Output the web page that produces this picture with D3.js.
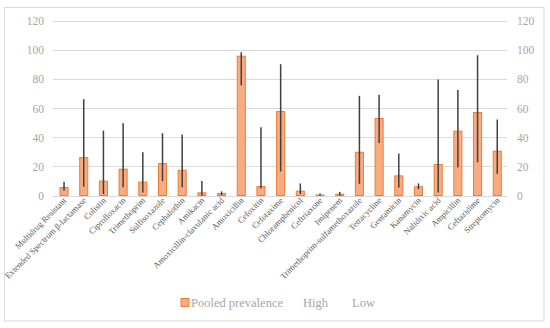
<!DOCTYPE html>
<html>
<head>
<meta charset="utf-8">
<script src="https://cdn.jsdelivr.net/npm/d3@7"></script>
<style>
  body { margin: 0; background: #fff; }
  svg { font-family: "Liberation Serif", "DejaVu Serif", serif; }
</style>
</head>
<body>
<svg id="chart" width="550" height="328"></svg>
<script>
// Data
const categories = [
  "Multidrug Resistant", "Extended Spectrum β-lactamase", "Colistin", "Ciprofloxacin",
  "Trimethoprim", "Sulfisoxazole", "Cephalothin", "Amikacin",
  "Amoxicillin-clavulanic acid", "Amoxicillin", "Cefoxitin", "Cefotaxime",
  "Chloramphenicol", "Ceftriaxone", "Imipenem", "Trimethoprim-sulfamethoxazole",
  "Tetracycline", "Gentamicin", "Kanamycin", "Nalidixic acid",
  "Ampicillin", "Ceftazidime", "Streptomycin"
];
const pooled = [5.5, 26.1, 9.9, 18.1, 9.2, 22, 17.4, 1.8, 1.4, 95.9, 6.2, 57.8,
                3, 0.3, 0.9, 29.8, 53, 13.5, 6, 21.3, 44.3, 57.1, 30.5];
const high = [9.4, 66.3, 44.7, 49.8, 29.8, 42.9, 42, 9.9, 2.8, 98.6, 47, 90.4,
              8.3, 1.4, 2.5, 68.6, 69.3, 28.9, 8.3, 79.8, 72.7, 96.6, 52.3];
const low = [3.2, 6, 1, 5.7, 2, 9.9, 5.7, 0, 0.3, 75.9, 4.8, 16.5,
             1, 0, 0, 8, 36.2, 5.5, 4.4, 2, 19.3, 22.9, 14.9];
const yTicks = [0, 20, 40, 60, 80, 100, 120];
const legendLabels = ["Pooled prevalence", "High", "Low"];

const svg = d3.select("#chart");

// outer frame
svg.append("rect")
  .attr("x", 4.5).attr("y", 7.5)
  .attr("width", 539.5).attr("height", 313.5)
  .attr("fill", "none").attr("stroke", "#d9d9d9");

const x = d3.scaleBand().domain(categories).range([54.2, 507.1]).paddingInner(0.54).paddingOuter(0.27);
const y = d3.scaleLinear().domain([0, 120]).range([195.5, 21.2]);

// gridlines
svg.append("g")
  .selectAll("line")
  .data(yTicks)
  .join("line")
  .attr("x1", 53).attr("x2", 507)
  .attr("y1", d => Math.round(y(d)) + 0.5).attr("y2", d => Math.round(y(d)) + 0.5)
  .attr("stroke", "#d9d9d9").attr("stroke-width", 1);

// left and right axes (labels only)
const leftAxis = svg.append("g")
  .attr("transform", "translate(44,0)")
  .call(d3.axisLeft(y).tickValues(yTicks).tickSize(0).tickPadding(0));
const rightAxis = svg.append("g")
  .attr("transform", "translate(517,0)")
  .call(d3.axisRight(y).tickValues(yTicks).tickSize(0).tickPadding(0));
[leftAxis, rightAxis].forEach(a => {
  a.select(".domain").remove();
  a.selectAll("text")
    .attr("fill", "#a6a6a6")
    .style("font-size", "11.5px")
    .style("font-family", "'Liberation Serif', serif");
});

// bars
svg.append("g")
  .selectAll("rect")
  .data(categories)
  .join("rect")
  .attr("x", d => x(d) + 0.5)
  .attr("y", (d, i) => y(pooled[i]))
  .attr("width", x.bandwidth() - 1)
  .attr("height", (d, i) => y(0) - y(pooled[i]))
  .attr("fill", "#f9ab82")
  .attr("stroke", "#ed7d31")
  .attr("stroke-width", 1);

// high-low lines
svg.append("g")
  .selectAll("line")
  .data(categories)
  .join("line")
  .attr("x1", d => x(d) + x.bandwidth() / 2)
  .attr("x2", d => x(d) + x.bandwidth() / 2)
  .attr("y1", (d, i) => y(high[i]))
  .attr("y2", (d, i) => y(low[i]))
  .attr("stroke", "#404040")
  .attr("stroke-width", 1.5);

// category labels
svg.append("g")
  .selectAll("text")
  .data(categories)
  .join("text")
  .attr("transform", d => `translate(${x(d) + x.bandwidth() / 2 + 3},${201}) rotate(-45)`)
  .attr("text-anchor", "end")
  .attr("fill", "#595959")
  .style("font-size", "8.6px")
  .text(d => d);

// legend
const legend = svg.append("g").attr("transform", "translate(0,303)");
legend.append("rect")
  .attr("x", 181).attr("y", -4.5)
  .attr("width", 8).attr("height", 8)
  .attr("fill", "#f9ab82").attr("stroke", "#ed7d31");
const legendX = [191, 303, 352];
legend.selectAll("text.lbl")
  .data(legendLabels)
  .join("text")
  .attr("class", "lbl")
  .attr("x", (d, i) => legendX[i])
  .attr("y", 4)
  .attr("fill", "#a6a6a6")
  .style("font-size", "12.5px")
  .text(d => d);
</script>
</body>
</html>
